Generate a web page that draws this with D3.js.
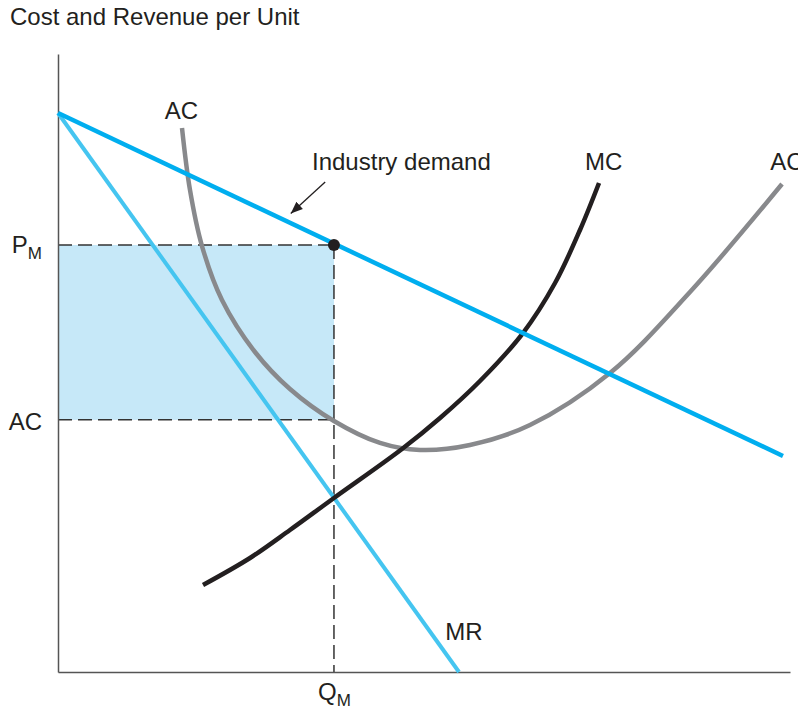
<!DOCTYPE html>
<html>
<head>
<meta charset="utf-8">
<script src="https://cdn.jsdelivr.net/npm/d3@7"></script>
<style>
  html, body { margin: 0; padding: 0; background: #fff; }
  svg { display: block; font-family: "Liberation Sans", Arial, Helvetica, sans-serif; }
</style>
</head>
<body>
<svg id="chart" width="798" height="715"></svg>
<script>
// ---- data (abstract units: quantity 0-100, cost/revenue 0-100) ----
const demandPts = [[0, 90.45], [99.04, 34.95]];
const mrPts = [[0, 90.45], [54.78, 0]];
const acPts = [
  [16.94, 88.03], [18.03, 78.00], [19.67, 68.93], [22.40, 60.20], [26.91, 51.78],
  [31.69, 45.79], [37.70, 40.61], [43.99, 37.06], [49.45, 35.92], [56.28, 36.73],
  [64.48, 39.97], [75.41, 48.38], [86.34, 61.49], [98.91, 78.96]
];
const mcPts = [
  [19.81, 14.08], [26.23, 18.45], [31.69, 22.98], [37.70, 28.16], [46.99, 36.08],
  [52.19, 41.10], [57.65, 47.09], [63.52, 54.85], [67.90, 62.94], [71.31, 71.52],
  [73.91, 79.13]
];
const QM = 37.7;          // monopoly quantity
const PM = 69.1;          // monopoly price
const ACM = 40.8;         // average cost at QM
const yTickValues = [PM, ACM];
const yTickLabels = [["P", "M"], ["AC", ""]];
const xTickValues = [QM];
const xTickLabels = [["Q", "M"]];
const curveLabels = [
  { text: "AC", at: [14.6, 89.5] },
  { text: "MC", at: [72.0, 81.2] },
  { text: "AC", at: [97.3, 81.2] },
  { text: "MR", at: [52.9, 5.2] },
  { text: "Industry demand", at: [34.7, 81.2] }
];
const arrowFrom = [36.5, 79.3];
const arrowTo = [31.8, 74.2];

// ---- drawing ----
const svg = d3.select("#chart");
const x = d3.scaleLinear().domain([0, 100]).range([58, 790]);
const y = d3.scaleLinear().domain([0, 100]).range([672, 54]);
const FS = 24;
const ink = "#231f20";

// shaded profit rectangle
svg.append("rect")
  .attr("x", x(0)).attr("y", y(PM))
  .attr("width", x(QM) - x(0)).attr("height", y(ACM) - y(PM))
  .attr("fill", "#c6e8f8");

// dashed guides
const dash = "14,6";
svg.append("line").attr("x1", x(0)).attr("x2", x(QM)).attr("y1", y(PM)).attr("y2", y(PM))
  .attr("stroke", "#333").attr("stroke-width", 1.5).attr("stroke-dasharray", dash);
svg.append("line").attr("x1", x(0)).attr("x2", x(QM)).attr("y1", y(ACM)).attr("y2", y(ACM))
  .attr("stroke", "#333").attr("stroke-width", 1.5).attr("stroke-dasharray", dash);
svg.append("line").attr("x1", x(QM)).attr("x2", x(QM)).attr("y1", y(PM)).attr("y2", y(0))
  .attr("stroke", "#333").attr("stroke-width", 1.5).attr("stroke-dasharray", dash);

// axes
const yAxis = d3.axisLeft(y).tickValues(yTickValues).tickSize(0).tickSizeOuter(0).tickPadding(16).tickFormat(() => "");
const xAxis = d3.axisBottom(x).tickValues(xTickValues).tickSize(0).tickSizeOuter(0).tickPadding(11).tickFormat(() => "");
const gy = svg.append("g").attr("transform", `translate(${x(0)},0)`).call(yAxis);
const gx = svg.append("g").attr("transform", `translate(0,${y(0)})`).call(xAxis);
[gy, gx].forEach(g => {
  g.select(".domain").attr("stroke", "#555").attr("stroke-width", 1.5);
  g.selectAll("text").attr("font-size", FS).attr("fill", ink).attr("font-family", null);
});
gy.selectAll(".tick text").each(function(d, i) {
  const t = d3.select(this);
  t.append("tspan").text(yTickLabels[i][0]);
  if (yTickLabels[i][1]) t.append("tspan").attr("font-size", 17).attr("dy", 6).text(yTickLabels[i][1]);
});
gy.selectAll(".tick").filter((d, i) => i === 0).select("text").attr("dy", "0.3em");
gy.selectAll(".tick").filter((d, i) => i === 1).select("text").attr("dy", "0.42em");
gx.selectAll(".tick text").each(function(d, i) {
  const t = d3.select(this).attr("dy", "0.71em");
  t.append("tspan").text(xTickLabels[i][0]);
  if (xTickLabels[i][1]) t.append("tspan").attr("font-size", 17).attr("dy", 6).text(xTickLabels[i][1]);
});

// curves
const line = d3.line().x(d => x(d[0])).y(d => y(d[1]));
const smooth = d3.line().x(d => x(d[0])).y(d => y(d[1])).curve(d3.curveCatmullRom.alpha(0.5));
svg.append("path").datum(mrPts).attr("d", line).attr("fill", "none").attr("stroke", "#45c5f0").attr("stroke-width", 4);
svg.append("path").datum(acPts).attr("d", smooth).attr("fill", "none").attr("stroke", "#88898c").attr("stroke-width", 4.5);
svg.append("path").datum(mcPts).attr("d", smooth).attr("fill", "none").attr("stroke", ink).attr("stroke-width", 4.5);
svg.append("path").datum(demandPts).attr("d", line).attr("fill", "none").attr("stroke", "#00aeef").attr("stroke-width", 4.5);

// equilibrium dot
svg.append("circle").attr("cx", x(QM)).attr("cy", y(PM)).attr("r", 6).attr("fill", ink);

// arrow
svg.append("defs").append("marker")
  .attr("id", "ah").attr("viewBox", "0 0 10 10").attr("refX", 10).attr("refY", 5)
  .attr("markerWidth", 12).attr("markerHeight", 12).attr("markerUnits", "userSpaceOnUse")
  .attr("orient", "auto")
  .append("path").attr("d", "M0,1 L10,5 L0,9 Z").attr("fill", ink);
svg.append("line")
  .attr("x1", x(arrowFrom[0])).attr("y1", y(arrowFrom[1]))
  .attr("x2", x(arrowTo[0])).attr("y2", y(arrowTo[1]))
  .attr("stroke", ink).attr("stroke-width", 1.3).attr("marker-end", "url(#ah)");

// curve labels
svg.selectAll("text.lbl").data(curveLabels).join("text").attr("class", "lbl")
  .attr("x", d => x(d.at[0])).attr("y", d => y(d.at[1]))
  .attr("font-size", FS).attr("fill", ink).text(d => d.text);

// axis title
svg.append("text").attr("x", 10).attr("y", 25).attr("font-size", FS).attr("fill", ink)
  .text("Cost and Revenue per Unit");
</script>
</body>
</html>
